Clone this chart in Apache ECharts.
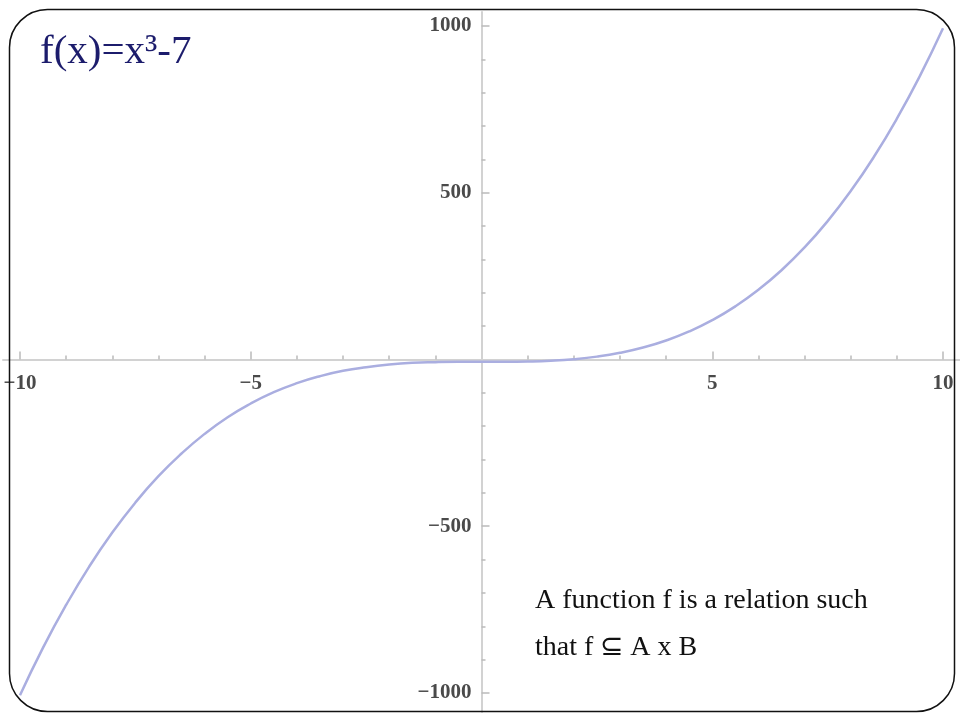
<!DOCTYPE html>
<html><head><meta charset="utf-8">
<script src="https://cdn.jsdelivr.net/npm/echarts@6/dist/echarts.min.js"></script>
<style>html,body{margin:0;padding:0;background:#fff}#c{width:960px;height:720px}</style>
</head><body><div id="c"></div>
<script>
// Data
const xValues = [-10,-9.5,-9,-8.5,-8,-7.5,-7,-6.5,-6,-5.5,-5,-4.5,-4,-3.5,-3,-2.5,-2,-1.5,-1,-0.5,0,0.5,1,1.5,2,2.5,3,3.5,4,4.5,5,5.5,6,6.5,7,7.5,8,8.5,9,9.5,10];
const yValues = [-1007,-864,-736,-621,-519,-429,-350,-282,-223,-173,-132,-98,-71,-50,-34,-23,-15,-10,-8,-7.1,-7,-6.9,-6,-3.6,1,8.6,20,35.9,57,84.1,118,159.4,209,267.6,336,414.9,505,607.1,722,850.4,993];
const xMinorTicks = [-10,-9,-8,-7,-6,-5,-4,-3,-2,-1,1,2,3,4,5,6,7,8,9,10];
const xMajorTicks = [-10,-5,5,10];
const yMinorTicks = [-1000,-900,-800,-700,-600,-500,-400,-300,-200,-100,100,200,300,400,500,600,700,800,900,1000];
const yMajorTicks = [-1000,-500,500,1000];
const titleText = 'f(x)=x³-7';
const noteLines = ['A function f is a relation such', 'that f ⊆ A x B'];

const chart = echarts.init(document.getElementById('c'), null, {renderer:'canvas'});
const fmt = v => (v < 0 ? '\u2212' + Math.abs(v) : String(v));
const labelStyle = {color:'#4a4a4a', fontFamily:'Liberation Serif', fontSize:21, fontWeight:'bold'};
const xMin = -10.368, xMax = 10.368, yMin = -1057, yMax = 1042;
// grid: left 3, width 957, top 12, height 700
const xAxisOffset = -352.5; // moves x axis up to y=0
const yAxisOffset = -478.5; // moves y axis right to x=0

chart.setOption({
  animation:false,
  backgroundColor:'#fff',
  grid:{left:3, right:0, top:12, bottom:8, outerBoundsMode:'none', containLabel:false},
  xAxis:[{
    type:'value', min:xMin, max:xMax, position:'bottom', offset:xAxisOffset,
    axisLine:{show:true, onZero:false, lineStyle:{color:'#d2d2d2', width:2}},
    axisTick:{show:true, inside:true, length:4, customValues:xMinorTicks, lineStyle:{color:'#bbb', width:1.5}},
    axisLabel:{show:true, customValues:xMajorTicks, formatter:fmt, margin:14, ...labelStyle},
    splitLine:{show:false}
  },{
    type:'value', min:xMin, max:xMax, position:'bottom', offset:xAxisOffset,
    axisLine:{show:false, onZero:false},
    axisTick:{show:true, inside:true, length:8, customValues:xMajorTicks, lineStyle:{color:'#bbb', width:1.5}},
    axisLabel:{show:false},
    splitLine:{show:false}
  }],
  yAxis:[{
    type:'value', min:yMin, max:yMax, position:'left', offset:yAxisOffset,
    axisLine:{show:true, onZero:false, lineStyle:{color:'#d2d2d2', width:2}},
    axisTick:{show:true, inside:true, length:4, customValues:yMinorTicks, lineStyle:{color:'#bbb', width:1.5}},
    axisLabel:{show:true, customValues:yMajorTicks, formatter:fmt, margin:10, ...labelStyle},
    splitLine:{show:false}
  },{
    type:'value', min:yMin, max:yMax, position:'left', offset:yAxisOffset,
    axisLine:{show:false, onZero:false},
    axisTick:{show:true, inside:true, length:8, customValues:yMajorTicks, lineStyle:{color:'#bbb', width:1.5}},
    axisLabel:{show:false},
    splitLine:{show:false}
  }],
  series:[{
    type:'line', xAxisIndex:0, yAxisIndex:0,
    data:xValues.map((x,i)=>[x,yValues[i]]),
    showSymbol:false, smooth:true,
    lineStyle:{color:'#aaaee0', width:2.5}
  }],
  graphic:[
    {type:'rect', left:7, top:7, silent:true, z:100,
     shape:{width:945, height:702, r:38},
     style:{fill:null, stroke:'#111', lineWidth:1.5}},
    {type:'text', left:40, top:32, z:100,
     style:{text:titleText, fill:'#1c1c6c', font:'41px "Liberation Serif"'}},
    {type:'text', left:535, top:587, z:100,
     style:{text:noteLines[0], fill:'#111', font:'28px "Liberation Serif"'}},
    {type:'text', left:535, top:634, z:100,
     style:{text:noteLines[1], fill:'#111', font:'28px "Liberation Serif"'}}
  ]
});
</script></body></html>
